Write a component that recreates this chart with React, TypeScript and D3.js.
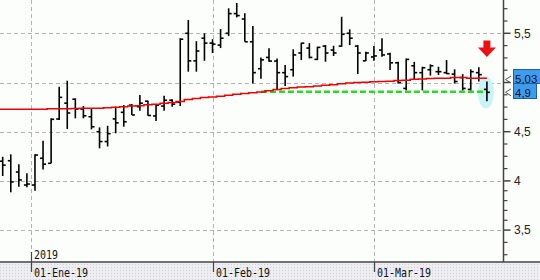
import React from 'react';
import * as d3 from 'd3';

// OHLC bars (index 0 = last days of Dec 2018, index 60 = last bar)
const opens = [4.20, 4.205, 4.09, 3.958, 3.958, 4.23, 4.179, 4.629, 4.79, 4.83, 4.73, 4.652, 4.50, 4.40, 4.63, 4.697, 4.77, 4.754, 4.81, 4.66, 4.76, 4.82, 4.80, 5.50, 5.22, 5.45, 5.40, 5.38, 5.50, 5.70, 5.645, 5.414, 5.14, 5.255, 5.218, 5.10, 5.13, 5.30, 5.35, 5.235, 5.37, 5.33, 5.37, 5.50, 5.37, 5.22, 5.26, 5.33, 5.29, 5.20, 4.94, 5.17, 5.10, 5.13, 5.11, 5.10, 5.085, 5.05, 4.93, 5.10, 4.93];
const highs = [4.245, 4.27, 4.17, 4.077, 4.27, 4.408, 4.636, 4.957, 5.018, 4.839, 4.761, 4.737, 4.544, 4.56, 4.754, 4.771, 4.781, 4.873, 4.815, 4.78, 4.865, 4.829, 5.449, 5.635, 5.42, 5.50, 5.44, 5.543, 5.754, 5.808, 5.703, 5.574, 5.255, 5.347, 5.245, 5.178, 5.337, 5.404, 5.40, 5.363, 5.38, 5.373, 5.668, 5.54, 5.38, 5.313, 5.37, 5.449, 5.302, 5.21, 5.245, 5.21, 5.16, 5.185, 5.16, 5.228, 5.134, 5.085, 5.134, 5.154, 5.01];
const lows = [4.05, 3.884, 3.94, 3.935, 3.90, 4.117, 4.179, 4.619, 4.527, 4.636, 4.636, 4.524, 4.331, 4.35, 4.484, 4.551, 4.67, 4.713, 4.662, 4.61, 4.713, 4.754, 4.761, 5.11, 5.11, 5.22, 5.30, 5.35, 5.472, 5.662, 5.414, 4.991, 5.038, 5.211, 4.92, 4.964, 5.06, 5.228, 5.245, 5.228, 5.211, 5.269, 5.363, 5.38, 5.086, 5.218, 5.22, 5.262, 5.127, 4.99, 4.92, 5.03, 4.92, 5.07, 5.076, 5.086, 4.99, 4.92, 4.92, 5.01, 4.81];
const closes = [4.16, 3.99, 4.01, 3.968, 4.263, 4.17, 4.626, 4.849, 4.69, 4.73, 4.662, 4.55, 4.40, 4.48, 4.59, 4.601, 4.67, 4.79, 4.665, 4.77, 4.82, 4.78, 5.44, 5.22, 5.32, 5.40, 5.39, 5.45, 5.70, 5.68, 5.414, 5.10, 5.23, 5.218, 5.10, 5.06, 5.28, 5.40, 5.255, 5.357, 5.30, 5.30, 5.49, 5.45, 5.30, 5.30, 5.27, 5.28, 5.20, 5.00, 5.235, 5.10, 5.15, 5.17, 5.11, 5.09, 5.01, 4.94, 5.11, 5.08, 4.90];
const movingAvg = [4.727, 4.727, 4.727, 4.727, 4.727, 4.727, 4.733, 4.733, 4.733, 4.735, 4.738, 4.738, 4.738, 4.744, 4.749, 4.754, 4.761, 4.764, 4.774, 4.778, 4.789, 4.797, 4.807, 4.827, 4.837, 4.847, 4.853, 4.861, 4.871, 4.881, 4.888, 4.896, 4.903, 4.917, 4.929, 4.939, 4.947, 4.954, 4.957, 4.964, 4.971, 4.977, 4.987, 4.995, 5.0, 5.002, 5.008, 5.01, 5.012, 5.02, 5.022, 5.032, 5.035, 5.04, 5.042, 5.042, 5.05, 5.052, 5.042, 5.042, 5.042];

const dateTickIdx = [3.5, 26, 46];
const dateLabels = ['01-Ene-19', '01-Feb-19', '01-Mar-19'];
const yearTickIdx = 3.5;
const yearLabel = '2019';

const yMajor = [3.5, 4, 4.5, 5, 5.5];
// the "5" label is hidden behind the last-value boxes in the reference
const yMajorLabels = ['3,5', '4', '4,5', '', '5,5'];
const yMinor = [3.25, 3.375, 3.6, 3.7, 3.8, 3.9, 4.125, 4.25, 4.375, 4.625, 4.75, 4.875, 5.125, 5.25, 5.375, 5.625, 5.75];

const supportLevel = 4.905;
const supportFrom = 32;
const supportTo = 60;

const lastValues = [5.03, 4.9];
const lastLabels = ['5,03', '4,9'];

export default function App() {
  const W = 540;
  const H = 280;
  const axisX = 503.5;
  const axisY = 262;
  const n = closes.length;
  const x = d3.scaleLinear().domain([0, n - 1]).range([2.7, 486.9]);
  const y = d3.scaleLinear().domain([3.5, 5.5]).range([230.1, 33.3]);

  const maPts: [number, number][] = [[x.invert(0), movingAvg[0]]];
  movingAvg.forEach((v, i) => maPts.push([i, v]));
  const maLine = d3
    .line<[number, number]>()
    .x((d) => x(d[0]))
    .y((d) => y(d[1]))
    .curve(d3.curveStep);

  const lx = x(n - 1);
  const ly = y(closes[n - 1]);
  const labelShift = [-0.8, 0.6];

  return (
    <svg
      width={W}
      height={H}
      style={{ position: 'absolute', left: 0, top: 0 }}
      fontFamily="'Liberation Sans', Arial, sans-serif"
    >
      <defs>
        <pattern id="dots" width="3" height="3" patternUnits="userSpaceOnUse">
          <rect width="3" height="3" fill="#eeedf2" />
          <rect width="1" height="1" fill="#cfcdd6" />
        </pattern>
      </defs>
      <rect width={W} height={H} fill="#fbfefb" />
      <rect x={0} y={axisY} width={W} height={H - axisY} fill="url(#dots)" />

      {/* horizontal grid */}
      {yMajor.map((v) => (
        <line key={'g' + v} x1={0} x2={axisX} y1={Math.round(y(v)) + 0.5} y2={Math.round(y(v)) + 0.5}
          stroke="#b4b4b4" strokeDasharray="4,3" />
      ))}
      {/* vertical grid */}
      {dateTickIdx.map((d) => (
        <line key={'v' + d} x1={Math.round(x(d)) + 0.5} x2={Math.round(x(d)) + 0.5} y1={0} y2={axisY}
          stroke="#b4b4b4" strokeDasharray="4,3" />
      ))}

      {/* highlight ellipse */}
      <ellipse cx={lx - 1} cy={ly} rx={8} ry={16} fill="#c9f3f6" />

      {/* support line */}
      <line x1={x(supportFrom)} x2={x(supportTo)} y1={y(supportLevel)} y2={y(supportLevel)}
        stroke="#22dd22" strokeWidth={2.5} strokeDasharray="6,3" />

      {/* OHLC bars */}
      <g stroke="#000" strokeWidth={1.6}>
        {closes.map((c, i) => {
          const cx = x(i);
          return (
            <g key={i}>
              <line x1={cx} x2={cx} y1={y(highs[i])} y2={y(lows[i])} />
              <line x1={cx - 3} x2={cx} y1={y(opens[i])} y2={y(opens[i])} />
              <line x1={cx} x2={cx + 3} y1={y(c)} y2={y(c)} />
            </g>
          );
        })}
      </g>

      {/* moving average */}
      <path d={maLine(maPts) || ''} fill="none" stroke="#ee0000" strokeWidth={1.5} />

      {/* red arrow */}
      <path
        d={`M${lx - 3.5},40.5 h7 v7 h5.5 l-9,9.5 l-9,-9.5 h5.5 z`}
        fill="#ee1111"
      />

      {/* axes */}
      <line x1={axisX} x2={axisX} y1={0} y2={axisY} stroke="#444" strokeWidth={1.5} />
      <line x1={0} x2={W} y1={axisY} y2={axisY} stroke="#444" strokeWidth={1.5} />
      {yMajor.map((v) => (
        <line key={'t' + v} x1={axisX} x2={axisX + 7} y1={y(v)} y2={y(v)} stroke="#444" strokeWidth={1.5} />
      ))}
      {yMinor.map((v) => (
        <line key={'m' + v} x1={axisX} x2={axisX + 4} y1={y(v)} y2={y(v)} stroke="#444" strokeWidth={1.2} />
      ))}
      {yMajor.map((v, i) =>
        yMajorLabels[i] ? (
          <text key={'l' + v} x={514} y={y(v) + 4.3} fontSize={12} fill="#222">
            {yMajorLabels[i]}
          </text>
        ) : null
      )}

      {/* last value markers */}
      {lastValues.map((v) => (
        <polyline key={'a' + v} points={`${axisX + 7.5},${y(v) - 3.5} ${axisX + 2},${y(v)} ${axisX + 7.5},${y(v) + 3.5}`}
          fill="none" stroke="#555" strokeWidth={1} />
      ))}
      <rect x={513.5} y={69.5} width={30} height={14} fill="#3d9cf0" stroke="#1b5fae" />
      <rect x={513.5} y={83.5} width={23} height={15} fill="#3d9cf0" stroke="#1b5fae" />
      {lastValues.map((v, i) => (
        <text key={'lv' + v} x={515} y={y(v) + 4.1 + labelShift[i]} fontSize={11.5} fill="#111">
          {lastLabels[i]}
        </text>
      ))}

      {/* date axis */}
      {dateTickIdx.map((d, i) => {
        const px = Math.round(x(d)) + 0.5;
        return (
          <g key={'d' + d}>
            <line x1={px} x2={px} y1={axisY} y2={axisY + 10} stroke="#444" strokeWidth={1.2} />
            <text x={px + 2.5} y={276.5} fontSize={12} fontFamily="'DejaVu Sans Mono', monospace"
              textLength={54} lengthAdjust="spacingAndGlyphs" fill="#111">
              {dateLabels[i]}
            </text>
          </g>
        );
      })}
      <line x1={Math.round(x(yearTickIdx)) + 0.5} x2={Math.round(x(yearTickIdx)) + 0.5} y1={axisY - 10} y2={axisY}
        stroke="#444" strokeWidth={1.2} />
      <text x={Math.round(x(yearTickIdx)) + 3} y={258.5} fontSize={12} fontFamily="'DejaVu Sans Mono', monospace"
        textLength={24} lengthAdjust="spacingAndGlyphs" fill="#111">
        {yearLabel}
      </text>
    </svg>
  );
}
